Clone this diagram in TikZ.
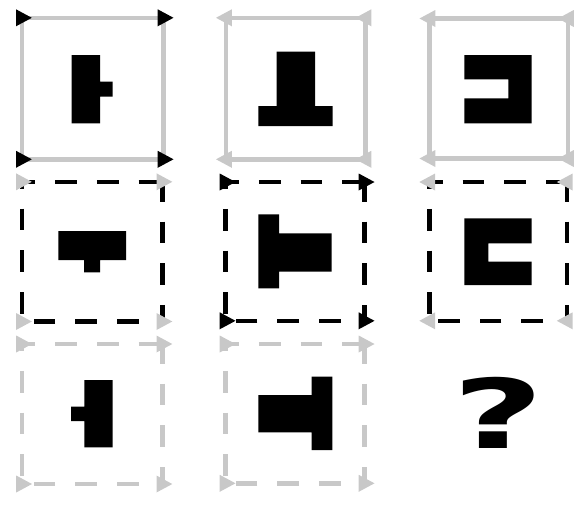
\documentclass[tikz,border=0pt]{standalone}
\usepackage{fontspec}
\newfontfamily\qfont{DejaVu Sans}
\definecolor{lgray}{RGB}{200,200,200}
\tikzset{
  x=1pt,y=-1pt,
  edge/.style={line width=4.5pt},
  dsh/.style={dash pattern=on 21.7pt off 20pt},
  blk/.style={fill=black},
}
\newcommand\solidsq[5]{\draw[edge,#5,line join=miter] (#1,#2) rectangle (#3,#4);}
\newcommand\dashsq[5]{%
  \draw[edge,#5,dsh,dash phase=8.4pt] (#1,#2) -- (#3,#2);
  \draw[edge,#5,dsh,dash phase=18pt] (#3,#4) -- (#1,#4);
  \draw[edge,#5,dsh,dash phase=14.8pt] (#1,#2) -- (#1,#4);
  \draw[edge,#5,dsh,dash phase=2pt] (#3,#2) -- (#3,#4);}
\newcommand\tris[6]{%
  \foreach \px/\py in {#1/#2,#3/#2,#1/#4,#3/#4}{
    \fill[#5] (\px,\py) ++({-5.8*(#6)},-8.5) -- ++({15.8*(#6)},8.5) -- ++({-15.8*(#6)},8.5) -- cycle;}}
\begin{document}
\begin{tikzpicture}
\useasboundingbox (0,0) rectangle (577,507);
% row 1
\solidsq{21.8}{17.8}{163.5}{159.3}{lgray}
\tris{21.8}{17.8}{163.5}{159.3}{black}{1}
\solidsq{226}{17.8}{365.5}{159.3}{lgray}
\tris{226}{17.8}{365.5}{159.3}{lgray}{-1}
\solidsq{429.5}{18.5}{568}{158.5}{lgray}
\tris{429.5}{18.5}{568}{158.5}{lgray}{-1}
% row 2
\dashsq{21.8}{181.8}{162.3}{321.5}{black}
\tris{21.8}{181.8}{162.3}{321.5}{lgray}{1}
\dashsq{225.5}{182}{364.5}{320.8}{black}
\tris{225.5}{182}{364.5}{320.8}{black}{1}
\dashsq{429.3}{182}{566.8}{320.8}{black}
\tris{429.3}{182}{566.8}{320.8}{lgray}{-1}
% row 3
\dashsq{22}{344}{162.3}{484}{lgray}
\tris{22}{344}{162.3}{484}{lgray}{1}
\dashsq{225.5}{344}{364.5}{483.3}{lgray}
\tris{225.5}{344}{364.5}{483.3}{lgray}{1}
% figures
\fill[blk] (71.7,55) -- (100,55) -- (100,81.7) -- (112.7,81.7) -- (112.7,96.7) -- (100,96.7) -- (100,123.3) -- (71.7,123.3) -- cycle;
\fill[blk] (276.7,51.7) -- (315,51.7) -- (315,106) -- (332.7,106) -- (332.7,126) -- (258.3,126) -- (258.3,106) -- (276.7,106) -- cycle;
\fill[blk] (464.3,55) -- (531.7,55) -- (531.7,123.3) -- (464.3,123.3) -- (464.3,98.3) -- (508.3,98.3) -- (508.3,79.3) -- (464.3,79.3) -- cycle;
\fill[blk] (58.3,231) -- (126,231) -- (126,260) -- (100,260) -- (100,272.3) -- (84,272.3) -- (84,260) -- (58.3,260) -- cycle;
\fill[blk] (258.3,214.3) -- (279,214.3) -- (279,233.3) -- (331.7,233.3) -- (331.7,271.7) -- (279,271.7) -- (279,288.3) -- (258.3,288.3) -- cycle;
\fill[blk] (464.3,218.3) -- (531.7,218.3) -- (531.7,243.3) -- (488.3,243.3) -- (488.3,261.7) -- (531.7,261.7) -- (531.7,285) -- (464.3,285) -- cycle;
\fill[blk] (84.3,380) -- (112.7,380) -- (112.7,447.3) -- (84.3,447.3) -- (84.3,421) -- (71,421) -- (71,406.7) -- (84.3,406.7) -- cycle;
\fill[blk] (311.7,376.7) -- (332.3,376.7) -- (332.3,450) -- (311.7,450) -- (311.7,432.3) -- (258.3,432.3) -- (258.3,395) -- (311.7,395) -- cycle;
% question mark
\node[inner sep=0pt, anchor=base, xscale=1.65, font=\qfont\bfseries\fontsize{96}{96}\selectfont] (q) at (498.3,448.3) {?};
\end{tikzpicture}
\end{document}
